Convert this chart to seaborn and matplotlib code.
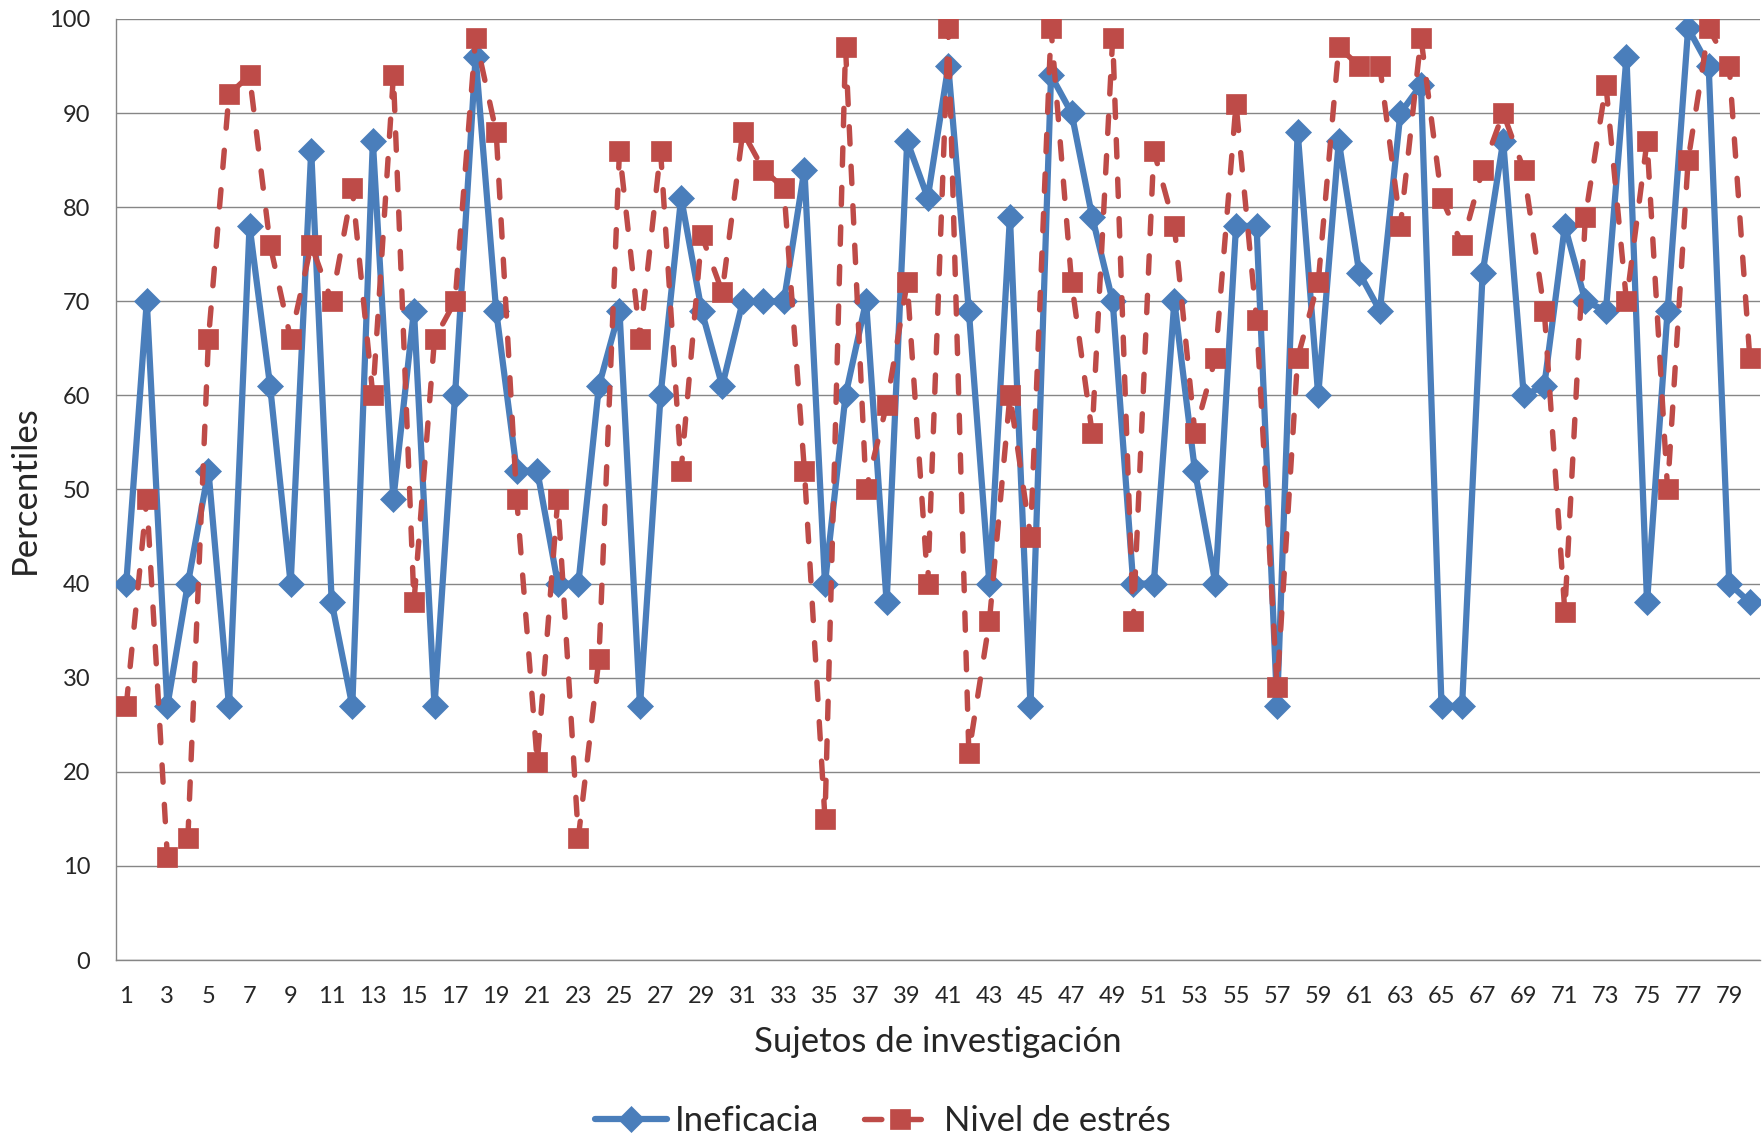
import numpy as np
import pandas as pd
import matplotlib
matplotlib.use("Agg")
import matplotlib.pyplot as plt
import seaborn as sns

subjects = list(range(1, 81))
ineficacia = [40, 70, 27, 40, 52, 27, 78, 61, 40, 86,
              38, 27, 87, 49, 69, 27, 60, 96, 69, 52,
              52, 40, 40, 61, 69, 27, 60, 81, 69, 61,
              70, 70, 70, 84, 40, 60, 70, 38, 87, 81,
              95, 69, 40, 79, 27, 94, 90, 79, 70, 40,
              40, 70, 52, 40, 78, 78, 27, 88, 60, 87,
              73, 69, 90, 93, 27, 27, 73, 87, 60, 61,
              78, 70, 69, 96, 38, 69, 99, 95, 40, 38]
estres = [27, 49, 11, 13, 66, 92, 94, 76, 66, 76,
          70, 82, 60, 94, 38, 66, 70, 98, 88, 49,
          21, 49, 13, 32, 86, 66, 86, 52, 77, 71,
          88, 84, 82, 52, 15, 97, 50, 59, 72, 40,
          99, 22, 36, 60, 45, 99, 72, 56, 98, 36,
          86, 78, 56, 64, 91, 68, 29, 64, 72, 97,
          95, 95, 78, 98, 81, 76, 84, 90, 84, 69,
          37, 79, 93, 70, 87, 50, 85, 99, 95, 64]
y_ticks = list(range(0, 101, 10))
x_ticks = list(range(1, 80, 2))

series_names = ["Ineficacia", "Nivel de estrés"]
x_label = "Sujetos de investigación"
y_label = "Percentiles"

df = pd.DataFrame({"Sujeto": subjects, "Ineficacia": ineficacia, "Estres": estres})

sns.set_style("white")
plt.rcParams['font.family'] = ['Lato', 'DejaVu Sans']

fig = plt.figure(figsize=(17.65, 11.41), dpi=100)
ax = fig.add_axes([0.0657, 0.1586, 0.9315, 0.8248])

blue = "#4A7EBB"
red = "#BE4B48"

sns.lineplot(data=df, x="Sujeto", y="Ineficacia", ax=ax, color=blue, marker="D",
             markersize=13, markeredgecolor=blue, markeredgewidth=0.5,
             linewidth=4.5, label=series_names[0], zorder=3)
sns.lineplot(data=df, x="Sujeto", y="Estres", ax=ax, color=red, marker="s",
             markersize=14.5, markeredgecolor=red, markeredgewidth=0.5,
             linewidth=3.9, linestyle=(0, (3.2, 4.1)), dash_capstyle="round",
             label=series_names[1], zorder=4)

ax.set_xlim(0.5, 80.5)
ax.set_ylim(0, 100)
ax.set_yticks(y_ticks)
ax.set_xticks(x_ticks)
ax.set_xticklabels([str(v) for v in x_ticks])
ax.grid(axis="y", color="#868686", linewidth=1.0)
ax.grid(axis="x", visible=False)
ax.set_axisbelow(True)
for s in ["top", "right"]:
    ax.spines[s].set_visible(False)
for s in ["left", "bottom"]:
    ax.spines[s].set_color("#868686")
    ax.spines[s].set_linewidth(1.0)
ax.tick_params(axis="y", length=0, labelsize=17, pad=18.5)
ax.tick_params(axis="x", length=0, labelsize=17, pad=19)

ax.set_xlabel(x_label, fontsize=25)
ax.set_ylabel(y_label, fontsize=25)
ax.xaxis.set_label_coords(0.5, -0.087)
ax.xaxis.label.set_va("center")
ax.yaxis.set_label_coords(-0.0553, 0.5)
ax.yaxis.label.set_va("center")

handles, labels = ax.get_legend_handles_labels()
order = [labels.index(series_names[0]), labels.index(series_names[1])]
ax.get_legend().remove()
fig.legend([handles[i] for i in order], [labels[i] for i in order],
           loc="center", bbox_to_anchor=(0.5, 0.0175), ncol=2, frameon=False,
           fontsize=25, handlelength=2.1, handletextpad=0.2, columnspacing=1.3)

fig.savefig("out.png", dpi=100)
